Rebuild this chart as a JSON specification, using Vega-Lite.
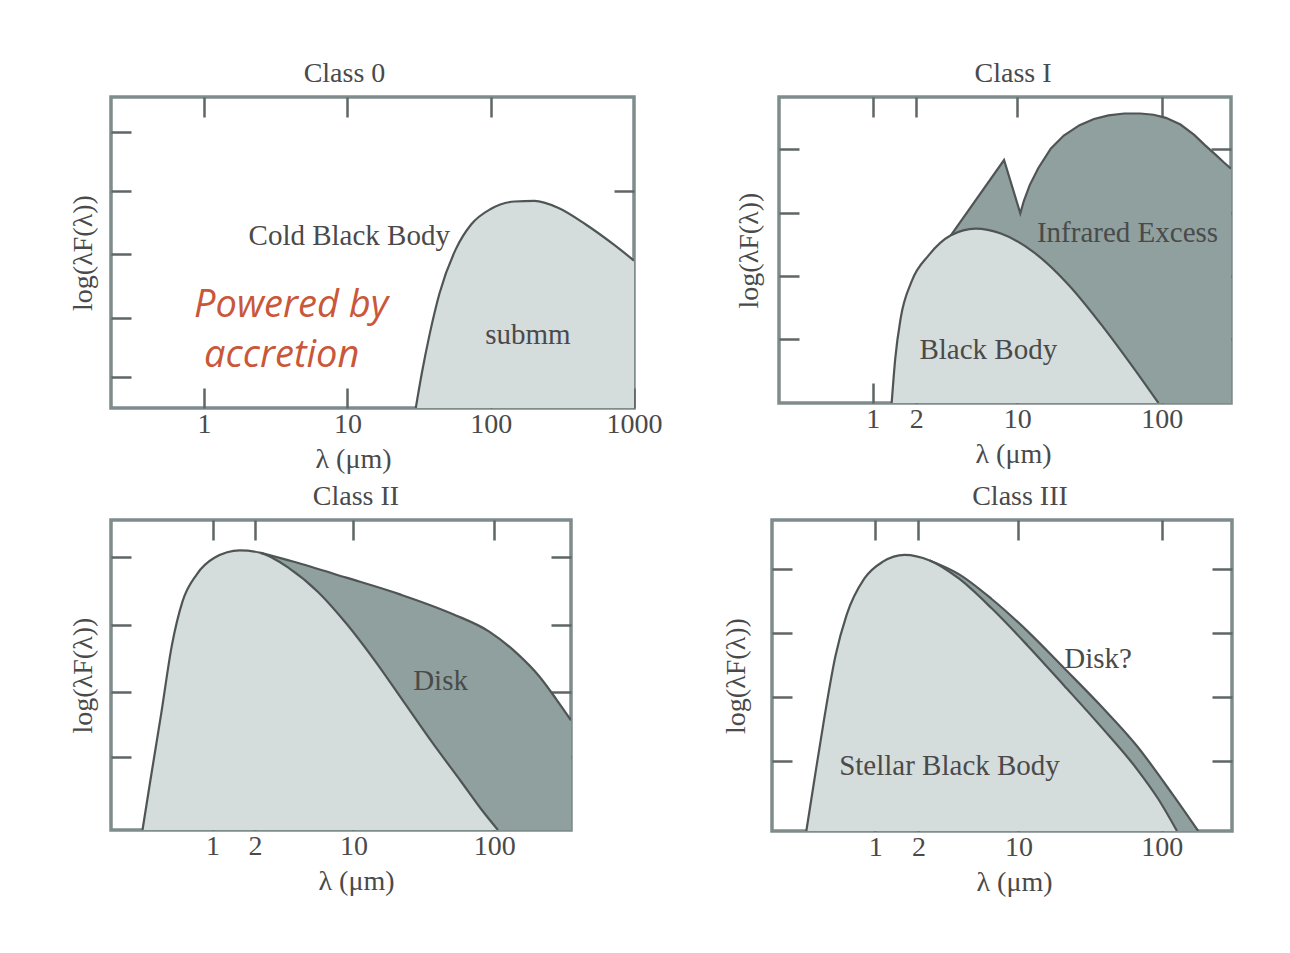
{
  "$schema": "https://vega.github.io/schema/vega-lite/v6.json",
  "background": "white",
  "padding": {"left": 68, "top": 58, "right": 40, "bottom": 40},
  "bounds": "full",
  "spacing": 6,
  "config": {
    "view": {"stroke": "#7f8c8c", "strokeWidth": 3.5},
    "axis": {
      "domain": false, "grid": false,
      "tickColor": "#5e6666", "tickWidth": 2.5, "tickSize": -20,
      "labelFont": "Liberation Serif", "labelFontSize": 28, "labelColor": "#4a4a4a",
      "labelFlush": false, "labelOverlap": false, "labelBound": false, "labelPadding": 22,
      "titleFont": "Liberation Serif", "titleFontSize": 28, "titleFontWeight": "normal", "titleColor": "#4a4a4a", "titlePadding": 12
    },
    "axisX": {"titlePadding": 7},
    "title": {"font": "Liberation Serif", "fontSize": 28, "fontWeight": "normal", "color": "#4a4a4a", "offset": 8}
  },
  "datasets": {
    "sed": [
      {"panel": "c0", "curve": "bb", "lam": 30, "v": 0},
      {"panel": "c0", "curve": "bb", "lam": 33, "v": 0.55},
      {"panel": "c0", "curve": "bb", "lam": 37.6, "v": 1.2},
      {"panel": "c0", "curve": "bb", "lam": 44, "v": 1.85},
      {"panel": "c0", "curve": "bb", "lam": 57, "v": 2.55},
      {"panel": "c0", "curve": "bb", "lam": 73, "v": 2.95},
      {"panel": "c0", "curve": "bb", "lam": 100, "v": 3.2},
      {"panel": "c0", "curve": "bb", "lam": 147, "v": 3.32},
      {"panel": "c0", "curve": "bb", "lam": 202, "v": 3.33},
      {"panel": "c0", "curve": "bb", "lam": 295, "v": 3.22},
      {"panel": "c0", "curve": "bb", "lam": 461, "v": 2.95},
      {"panel": "c0", "curve": "bb", "lam": 720, "v": 2.63},
      {"panel": "c0", "curve": "bb", "lam": 1000, "v": 2.37},

      {"panel": "c1", "curve": "bb", "lam": 1.35, "v": 0},
      {"panel": "c1", "curve": "bb", "lam": 1.43, "v": 0.73},
      {"panel": "c1", "curve": "bb", "lam": 1.56, "v": 1.39},
      {"panel": "c1", "curve": "bb", "lam": 1.85, "v": 1.98},
      {"panel": "c1", "curve": "bb", "lam": 2.45, "v": 2.42},
      {"panel": "c1", "curve": "bb", "lam": 3.47, "v": 2.74},
      {"panel": "c1", "curve": "bb", "lam": 5.15, "v": 2.85},
      {"panel": "c1", "curve": "bb", "lam": 7.7, "v": 2.77},
      {"panel": "c1", "curve": "bb", "lam": 12.9, "v": 2.47},
      {"panel": "c1", "curve": "bb", "lam": 22.7, "v": 1.93},
      {"panel": "c1", "curve": "bb", "lam": 40, "v": 1.22},
      {"panel": "c1", "curve": "bb", "lam": 64, "v": 0.57},
      {"panel": "c1", "curve": "bb", "lam": 95, "v": 0},

      {"panel": "c1", "curve": "ex", "lam": 3.47, "v": 2.74},
      {"panel": "c1", "curve": "ex", "lam": 8.1, "v": 3.97},
      {"panel": "c1", "curve": "ex", "lam": 10.5, "v": 3.1},
      {"panel": "c1", "curve": "ex", "lam": 11.1, "v": 3.3},
      {"panel": "c1", "curve": "ex", "lam": 12.2, "v": 3.56},
      {"panel": "c1", "curve": "ex", "lam": 14, "v": 3.84},
      {"panel": "c1", "curve": "ex", "lam": 17.1, "v": 4.16},
      {"panel": "c1", "curve": "ex", "lam": 21, "v": 4.37},
      {"panel": "c1", "curve": "ex", "lam": 27, "v": 4.54},
      {"panel": "c1", "curve": "ex", "lam": 34, "v": 4.64},
      {"panel": "c1", "curve": "ex", "lam": 42.8, "v": 4.7},
      {"panel": "c1", "curve": "ex", "lam": 55, "v": 4.73},
      {"panel": "c1", "curve": "ex", "lam": 71, "v": 4.73},
      {"panel": "c1", "curve": "ex", "lam": 88, "v": 4.71},
      {"panel": "c1", "curve": "ex", "lam": 107, "v": 4.66},
      {"panel": "c1", "curve": "ex", "lam": 135, "v": 4.55},
      {"panel": "c1", "curve": "ex", "lam": 168, "v": 4.38},
      {"panel": "c1", "curve": "ex", "lam": 200, "v": 4.21},
      {"panel": "c1", "curve": "ex", "lam": 238, "v": 4.05},
      {"panel": "c1", "curve": "ex", "lam": 270, "v": 3.93},
      {"panel": "c1", "curve": "ex", "lam": 302, "v": 3.83},

      {"panel": "c2", "curve": "bb", "lam": 0.318, "v": 0},
      {"panel": "c2", "curve": "bb", "lam": 0.361, "v": 0.79},
      {"panel": "c2", "curve": "bb", "lam": 0.432, "v": 1.88},
      {"panel": "c2", "curve": "bb", "lam": 0.513, "v": 2.97},
      {"panel": "c2", "curve": "bb", "lam": 0.61, "v": 3.68},
      {"panel": "c2", "curve": "bb", "lam": 0.77, "v": 4.12},
      {"panel": "c2", "curve": "bb", "lam": 1.03, "v": 4.39},
      {"panel": "c2", "curve": "bb", "lam": 1.56, "v": 4.51},
      {"panel": "c2", "curve": "bb", "lam": 2.2, "v": 4.47},
      {"panel": "c2", "curve": "bb", "lam": 3.5, "v": 4.22},
      {"panel": "c2", "curve": "bb", "lam": 5.6, "v": 3.84},
      {"panel": "c2", "curve": "bb", "lam": 8.9, "v": 3.33},
      {"panel": "c2", "curve": "bb", "lam": 14.3, "v": 2.72},
      {"panel": "c2", "curve": "bb", "lam": 22.7, "v": 2.07},
      {"panel": "c2", "curve": "bb", "lam": 36, "v": 1.42},
      {"panel": "c2", "curve": "bb", "lam": 57.7, "v": 0.79},
      {"panel": "c2", "curve": "bb", "lam": 81, "v": 0.33},
      {"panel": "c2", "curve": "bb", "lam": 106, "v": 0},

      {"panel": "c2", "curve": "ex", "lam": 2.2, "v": 4.47},
      {"panel": "c2", "curve": "ex", "lam": 3.72, "v": 4.33},
      {"panel": "c2", "curve": "ex", "lam": 8.9, "v": 4.07},
      {"panel": "c2", "curve": "ex", "lam": 21.4, "v": 3.8},
      {"panel": "c2", "curve": "ex", "lam": 51, "v": 3.48},
      {"panel": "c2", "curve": "ex", "lam": 92, "v": 3.2},
      {"panel": "c2", "curve": "ex", "lam": 146, "v": 2.84},
      {"panel": "c2", "curve": "ex", "lam": 208, "v": 2.48},
      {"panel": "c2", "curve": "ex", "lam": 277, "v": 2.1},
      {"panel": "c2", "curve": "ex", "lam": 350, "v": 1.77},

      {"panel": "c3", "curve": "bb", "lam": 0.33, "v": 0},
      {"panel": "c3", "curve": "bb", "lam": 0.373, "v": 0.78},
      {"panel": "c3", "curve": "bb", "lam": 0.443, "v": 1.85},
      {"panel": "c3", "curve": "bb", "lam": 0.528, "v": 2.82},
      {"panel": "c3", "curve": "bb", "lam": 0.63, "v": 3.47},
      {"panel": "c3", "curve": "bb", "lam": 0.84, "v": 4.06},
      {"panel": "c3", "curve": "bb", "lam": 1.13, "v": 4.33},
      {"panel": "c3", "curve": "bb", "lam": 1.6, "v": 4.44},
      {"panel": "c3", "curve": "bb", "lam": 2.4, "v": 4.35},
      {"panel": "c3", "curve": "bb", "lam": 3.83, "v": 4.06},
      {"panel": "c3", "curve": "bb", "lam": 6.5, "v": 3.58},
      {"panel": "c3", "curve": "bb", "lam": 11.6, "v": 2.98},
      {"panel": "c3", "curve": "bb", "lam": 20.8, "v": 2.34},
      {"panel": "c3", "curve": "bb", "lam": 37.3, "v": 1.69},
      {"panel": "c3", "curve": "bb", "lam": 67, "v": 1.0},
      {"panel": "c3", "curve": "bb", "lam": 95, "v": 0.51},
      {"panel": "c3", "curve": "bb", "lam": 128, "v": 0},

      {"panel": "c3", "curve": "ex", "lam": 2.4, "v": 4.35},
      {"panel": "c3", "curve": "ex", "lam": 3.83, "v": 4.13},
      {"panel": "c3", "curve": "ex", "lam": 6.5, "v": 3.73},
      {"panel": "c3", "curve": "ex", "lam": 11.6, "v": 3.21},
      {"panel": "c3", "curve": "ex", "lam": 20.8, "v": 2.62},
      {"panel": "c3", "curve": "ex", "lam": 37.3, "v": 2.02},
      {"panel": "c3", "curve": "ex", "lam": 67, "v": 1.37},
      {"panel": "c3", "curve": "ex", "lam": 120, "v": 0.58},
      {"panel": "c3", "curve": "ex", "lam": 180, "v": 0}
    ],
    "labels": [
      {"panel": "c0", "kind": "gray", "text": "Cold Black Body", "lam": 10.3, "v": 2.76},
      {"panel": "c0", "kind": "gray", "text": "submm", "lam": 182, "v": 1.17},
      {"panel": "c0", "kind": "note", "text": "Powered by", "lam": 0.85, "v": 1.64},
      {"panel": "c0", "kind": "note", "text": "accretion", "lam": 1.0, "v": 0.84},
      {"panel": "c1", "kind": "gray", "text": "Infrared Excess", "lam": 58, "v": 2.78},
      {"panel": "c1", "kind": "gray", "text": "Black Body", "lam": 6.3, "v": 0.87},
      {"panel": "c2", "kind": "gray", "text": "Disk", "lam": 41.5, "v": 2.4},
      {"panel": "c3", "kind": "gray", "text": "Disk?", "lam": 36, "v": 2.76},
      {"panel": "c3", "kind": "gray", "text": "Stellar Black Body", "lam": 3.3, "v": 1.04}
    ]
  },
  "vconcat": [
    {
      "bounds": "flush",
      "spacing": 145,
      "hconcat": [
        {
          "width": 523, "height": 311,
          "title": {"text": "Class 0", "dx": -28},
          "layer": [
            {
              "data": {"name": "sed"},
              "transform": [{"filter": "datum.panel === 'c0' && datum.curve === 'bb'"}],
              "mark": {"type": "area", "color": "#d5dcdc", "interpolate": "monotone", "clip": true},
              "encoding": {
                "x": {"field": "lam", "type": "quantitative", "scale": {"type": "log", "domain": [0.224, 1000], "nice": false},
                      "axis": {"orient": "bottom", "values": [1, 10, 100, 1000], "format": "~g", "title": "λ (μm)", "titleX": 242}},
                "y": {"field": "v", "type": "quantitative", "scale": {"domain": [0, 5], "nice": false, "zero": false},
                      "axis": {"orient": "left", "values": [0.5, 1.44, 2.48, 3.49, 4.44], "labels": false, "title": "log(λF(λ))"}}
              }
            },
            {
              "data": {"name": "sed"},
              "transform": [{"filter": "datum.panel === 'c0' && datum.curve === 'bb'"}],
              "mark": {"type": "line", "color": "#4f5555", "strokeWidth": 2.2, "interpolate": "monotone", "clip": true},
              "encoding": {
                "x": {"field": "lam", "type": "quantitative", "axis": {"orient": "top", "values": [1, 10, 100], "labels": false, "title": null}},
                "y": {"field": "v", "type": "quantitative", "axis": {"orient": "right", "values": [3.49], "labels": false, "title": null}}
              }
            },
            {
              "data": {"name": "labels"},
              "transform": [{"filter": "datum.panel === 'c0' && datum.kind === 'gray'"}],
              "mark": {"type": "text", "font": "Liberation Serif", "fontSize": 29, "color": "#4a4a4a", "align": "center", "baseline": "middle"},
              "encoding": {
                "x": {"field": "lam", "type": "quantitative", "axis": null},
                "y": {"field": "v", "type": "quantitative", "axis": null},
                "text": {"field": "text"}
              }
            },
            {
              "data": {"name": "labels"},
              "transform": [{"filter": "datum.panel === 'c0' && datum.kind === 'note'"}],
              "mark": {"type": "text", "font": "Open Sans", "fontStyle": "italic", "fontSize": 38, "color": "#c9573a", "align": "left", "baseline": "middle"},
              "encoding": {
                "x": {"field": "lam", "type": "quantitative", "axis": null},
                "y": {"field": "v", "type": "quantitative", "axis": null},
                "text": {"field": "text"}
              }
            }
          ],
          "resolve": {"axis": {"x": "independent", "y": "independent"}}
        },
        {
          "width": 452, "height": 306,
          "title": {"text": "Class I", "dx": 8},
          "layer": [
            {
              "data": {"name": "sed"},
              "transform": [{"filter": "datum.panel === 'c1' && datum.curve === 'ex'"}],
              "mark": {"type": "area", "color": "#8fa09f", "interpolate": "linear", "clip": true},
              "encoding": {
                "x": {"field": "lam", "type": "quantitative", "scale": {"type": "log", "domain": [0.224, 302], "nice": false},
                      "axis": {"orient": "bottom", "values": [1, 2, 10, 100], "format": "~g", "title": "λ (μm)", "titleX": 234}},
                "y": {"field": "v", "type": "quantitative", "scale": {"domain": [0, 5], "nice": false, "zero": false},
                      "axis": {"orient": "left", "values": [1.05, 2.08, 3.11, 4.15], "labels": false, "title": "log(λF(λ))", "titlePadding": 14}}
              }
            },
            {
              "data": {"name": "sed"},
              "transform": [{"filter": "datum.panel === 'c1' && datum.curve === 'bb'"}],
              "mark": {"type": "area", "color": "#d5dcdc", "interpolate": "monotone", "clip": true},
              "encoding": {
                "x": {"field": "lam", "type": "quantitative", "axis": {"orient": "top", "values": [1, 2, 10, 100], "labels": false, "title": null}},
                "y": {"field": "v", "type": "quantitative", "axis": {"orient": "right", "values": [1.05, 2.08, 3.11, 4.15], "labels": false, "title": null}}
              }
            },
            {
              "data": {"name": "sed"},
              "transform": [{"filter": "datum.panel === 'c1' && datum.curve === 'ex'"}],
              "mark": {"type": "line", "color": "#4f5555", "strokeWidth": 2.2, "interpolate": "linear", "clip": true},
              "encoding": {
                "x": {"field": "lam", "type": "quantitative", "axis": null},
                "y": {"field": "v", "type": "quantitative", "axis": null}
              }
            },
            {
              "data": {"name": "sed"},
              "transform": [{"filter": "datum.panel === 'c1' && datum.curve === 'bb'"}],
              "mark": {"type": "line", "color": "#4f5555", "strokeWidth": 2.2, "interpolate": "monotone", "clip": true},
              "encoding": {
                "x": {"field": "lam", "type": "quantitative", "axis": null},
                "y": {"field": "v", "type": "quantitative", "axis": null}
              }
            },
            {
              "data": {"name": "labels"},
              "transform": [{"filter": "datum.panel === 'c1'"}],
              "mark": {"type": "text", "font": "Liberation Serif", "fontSize": 29, "color": "#4a4a4a", "align": "center", "baseline": "middle"},
              "encoding": {
                "x": {"field": "lam", "type": "quantitative", "axis": null},
                "y": {"field": "v", "type": "quantitative", "axis": null},
                "text": {"field": "text"}
              }
            }
          ],
          "resolve": {"axis": {"x": "independent", "y": "independent"}}
        }
      ]
    },
    {
      "bounds": "flush",
      "spacing": 201,
      "hconcat": [
        {
          "width": 460, "height": 310,
          "title": {"text": "Class II", "dx": 15},
          "layer": [
            {
              "data": {"name": "sed"},
              "transform": [{"filter": "datum.panel === 'c2' && datum.curve === 'ex'"}],
              "mark": {"type": "area", "color": "#8fa09f", "interpolate": "monotone", "clip": true},
              "encoding": {
                "x": {"field": "lam", "type": "quantitative", "scale": {"type": "log", "domain": [0.19, 350], "nice": false},
                      "axis": {"orient": "bottom", "values": [1, 2, 10, 100], "format": "~g", "title": "λ (μm)", "titleX": 245}},
                "y": {"field": "v", "type": "quantitative", "scale": {"domain": [0, 5], "nice": false, "zero": false},
                      "axis": {"orient": "left", "values": [1.18, 2.22, 3.3, 4.4], "labels": false, "title": "log(λF(λ))"}}
              }
            },
            {
              "data": {"name": "sed"},
              "transform": [{"filter": "datum.panel === 'c2' && datum.curve === 'bb'"}],
              "mark": {"type": "area", "color": "#d5dcdc", "interpolate": "monotone", "clip": true},
              "encoding": {
                "x": {"field": "lam", "type": "quantitative", "axis": {"orient": "top", "values": [1, 2, 10, 100], "labels": false, "title": null}},
                "y": {"field": "v", "type": "quantitative", "axis": {"orient": "right", "values": [1.18, 2.22, 3.3, 4.4], "labels": false, "title": null}}
              }
            },
            {
              "data": {"name": "sed"},
              "transform": [{"filter": "datum.panel === 'c2'"}],
              "mark": {"type": "line", "color": "#4f5555", "strokeWidth": 2.2, "interpolate": "monotone", "clip": true},
              "encoding": {
                "x": {"field": "lam", "type": "quantitative", "axis": null},
                "y": {"field": "v", "type": "quantitative", "axis": null},
                "detail": {"field": "curve"}
              }
            },
            {
              "data": {"name": "labels"},
              "transform": [{"filter": "datum.panel === 'c2'"}],
              "mark": {"type": "text", "font": "Liberation Serif", "fontSize": 29, "color": "#4a4a4a", "align": "center", "baseline": "middle"},
              "encoding": {
                "x": {"field": "lam", "type": "quantitative", "axis": null},
                "y": {"field": "v", "type": "quantitative", "axis": null},
                "text": {"field": "text"}
              }
            }
          ],
          "resolve": {"axis": {"x": "independent", "y": "independent"}}
        },
        {
          "width": 460, "height": 311,
          "title": {"text": "Class III", "dx": 18},
          "layer": [
            {
              "data": {"name": "sed"},
              "transform": [{"filter": "datum.panel === 'c3' && datum.curve === 'ex'"}],
              "mark": {"type": "area", "color": "#8fa09f", "interpolate": "monotone", "clip": true},
              "encoding": {
                "x": {"field": "lam", "type": "quantitative", "scale": {"type": "log", "domain": [0.19, 310], "nice": false},
                      "axis": {"orient": "bottom", "values": [1, 2, 10, 100], "format": "~g", "title": "λ (μm)", "titleX": 242}},
                "y": {"field": "v", "type": "quantitative", "scale": {"domain": [0, 5], "nice": false, "zero": false},
                      "axis": {"orient": "left", "values": [1.12, 2.16, 3.19, 4.22], "labels": false, "title": "log(λF(λ))", "titlePadding": 20}}
              }
            },
            {
              "data": {"name": "sed"},
              "transform": [{"filter": "datum.panel === 'c3' && datum.curve === 'bb'"}],
              "mark": {"type": "area", "color": "#d5dcdc", "interpolate": "monotone", "clip": true},
              "encoding": {
                "x": {"field": "lam", "type": "quantitative", "axis": {"orient": "top", "values": [1, 2, 10, 100], "labels": false, "title": null}},
                "y": {"field": "v", "type": "quantitative", "axis": {"orient": "right", "values": [1.12, 2.16, 3.19, 4.22], "labels": false, "title": null}}
              }
            },
            {
              "data": {"name": "sed"},
              "transform": [{"filter": "datum.panel === 'c3'"}],
              "mark": {"type": "line", "color": "#4f5555", "strokeWidth": 2.2, "interpolate": "monotone", "clip": true},
              "encoding": {
                "x": {"field": "lam", "type": "quantitative", "axis": null},
                "y": {"field": "v", "type": "quantitative", "axis": null},
                "detail": {"field": "curve"}
              }
            },
            {
              "data": {"name": "labels"},
              "transform": [{"filter": "datum.panel === 'c3'"}],
              "mark": {"type": "text", "font": "Liberation Serif", "fontSize": 29, "color": "#4a4a4a", "align": "center", "baseline": "middle"},
              "encoding": {
                "x": {"field": "lam", "type": "quantitative", "axis": null},
                "y": {"field": "v", "type": "quantitative", "axis": null},
                "text": {"field": "text"}
              }
            }
          ],
          "resolve": {"axis": {"x": "independent", "y": "independent"}}
        }
      ]
    }
  ]
}
